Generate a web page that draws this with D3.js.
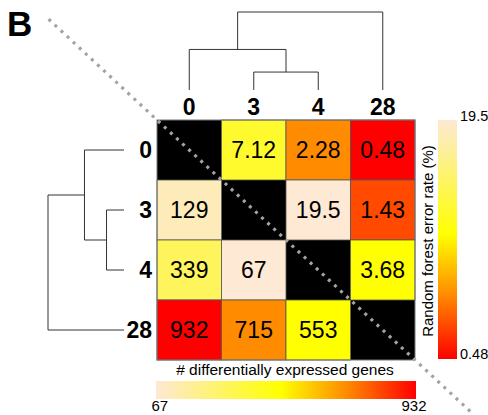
<!DOCTYPE html>
<html>
<head>
<meta charset="utf-8">
<script src="https://cdn.jsdelivr.net/npm/d3@7"></script>
<style>
  body { margin: 0; background: #fff; }
  text { font-family: "Liberation Sans", Arial, sans-serif; }
</style>
</head>
<body>
<div id="vis"></div>
<script>
// groups (rows and columns, in dendrogram order)
var groups = ["0", "3", "4", "28"];

// upper triangle: random forest error rate (%), [row, col, value]
var errorRates = [
  ["0", "3", 7.12], ["0", "4", 2.28], ["0", "28", 0.48],
  ["3", "4", 19.5], ["3", "28", 1.43],
  ["4", "28", 3.68]
];

// lower triangle: number of differentially expressed genes
var deGenes = [
  ["3", "0", 129],
  ["4", "0", 339], ["4", "3", 67],
  ["28", "0", 932], ["28", "3", 715], ["28", "4", 553]
];

// dendrogram: 3 and 4 join first, then 0, then 28 (relative heights)
var tree = {h: 1, children: [
  {h: 0.52, children: [
    {name: "0", h: 0},
    {h: 0.23, children: [{name: "3", h: 0}, {name: "4", h: 0}]}
  ]},
  {name: "28", h: 0}
]};

var errorRange = [0.48, 19.5];
var geneRange = [67, 932];

// colour bar palette (low-gene / high-error end first)
var paletteColors = ["#fde9d4", "#ffff00", "#ff8c00", "#ff0000"];
var paletteStops = [0, 0.48, 0.73, 1];

var width = 488, height = 415;

var svg = d3.select("#vis")
  .append("svg")
  .attr("width", width)
  .attr("height", height);

// heatmap scales
var x = d3.scaleBand().domain(groups).range([157, 415]);
var y = d3.scaleBand().domain(groups).range([120, 360]);

// colour scales: beige -> yellow -> orange -> red
var errColor = d3.scaleLinear()
  .domain([0.48, 2.28, 3.68, 19.5])
  .range(["#ff0000", "#ff8c00", "#ffff00", "#fde9d4"]);
var geneColor = d3.scaleLinear()
  .domain([67, 553, 715, 932])
  .range(["#fde9d4", "#ffff00", "#ff8c00", "#ff0000"]);

// panel letter
svg.append("text")
  .attr("x", 7)
  .attr("y", 36)
  .attr("font-size", 35)
  .attr("font-weight", "bold")
  .text("B");

// diagonal cells
svg.selectAll(".diag")
  .data(groups)
  .enter().append("rect")
  .attr("x", function(d) { return x(d); })
  .attr("y", function(d) { return y(d); })
  .attr("width", x.bandwidth())
  .attr("height", y.bandwidth())
  .attr("fill", "#000");

function drawCells(data, color) {
  var g = svg.append("g");
  g.selectAll("rect")
    .data(data)
    .enter().append("rect")
    .attr("x", function(d) { return x(d[1]); })
    .attr("y", function(d) { return y(d[0]); })
    .attr("width", x.bandwidth())
    .attr("height", y.bandwidth())
    .attr("fill", function(d) { return color(d[2]); })
    .attr("stroke", "#555")
    .attr("stroke-width", 0.8);
  g.selectAll("text")
    .data(data)
    .enter().append("text")
    .attr("x", function(d) { return x(d[1]) + x.bandwidth() / 2; })
    .attr("y", function(d) { return y(d[0]) + y.bandwidth() / 2 + 8; })
    .attr("text-anchor", "middle")
    .attr("font-size", 23)
    .text(function(d) { return d[2]; });
}
drawCells(errorRates, errColor);
drawCells(deGenes, geneColor);

// outer border
svg.append("rect")
  .attr("x", x.range()[0])
  .attr("y", y.range()[0])
  .attr("width", x.range()[1] - x.range()[0])
  .attr("height", y.range()[1] - y.range()[0])
  .attr("fill", "none")
  .attr("stroke", "#777")
  .attr("stroke-width", 1);

// column and row labels
svg.selectAll(".collab")
  .data(groups)
  .enter().append("text")
  .attr("x", function(d) { return x(d) + x.bandwidth() / 2; })
  .attr("y", 115)
  .attr("text-anchor", "middle")
  .attr("font-size", 23)
  .attr("font-weight", "bold")
  .text(function(d) { return d; });

svg.selectAll(".rowlab")
  .data(groups)
  .enter().append("text")
  .attr("x", 152)
  .attr("y", function(d) { return y(d) + y.bandwidth() / 2 + 8; })
  .attr("text-anchor", "end")
  .attr("font-size", 23)
  .attr("font-weight", "bold")
  .text(function(d) { return d; });

// dendrograms
var root = d3.hierarchy(tree);
function leafPos(node, pos) {
  if (!node.children) return pos(node.data.name);
  return d3.mean(node.children, function(c) { return leafPos(c, pos); });
}

function drawDendro(pos, hScale, vertical) {
  var g = svg.append("g")
    .attr("fill", "none")
    .attr("stroke", "#333")
    .attr("stroke-width", 1);
  root.descendants().forEach(function(n) {
    if (!n.children) return;
    var hp = hScale(n.data.h);
    var pts = n.children.map(function(c) { return leafPos(c, pos); });
    var path = d3.path();
    n.children.forEach(function(c, i) {
      var hc = hScale(c.data.h);
      if (vertical) {
        path.moveTo(pts[i], hc); path.lineTo(pts[i], hp);
      } else {
        path.moveTo(hc, pts[i]); path.lineTo(hp, pts[i]);
      }
    });
    if (vertical) { path.moveTo(pts[0], hp); path.lineTo(pts[1], hp); }
    else { path.moveTo(hp, pts[0]); path.lineTo(hp, pts[1]); }
    g.append("path").attr("d", path.toString());
  });
}

drawDendro(function(d) { return x(d) + x.bandwidth() / 2; },
  d3.scaleLinear().domain([0, 1]).range([90, 12]), true);
drawDendro(function(d) { return y(d) + y.bandwidth() / 2; },
  d3.scaleLinear().domain([0, 1]).range([124, 48]), false);

// colour bar gradients
var defs = svg.append("defs");
function gradient(id, horizontal) {
  var grad = defs.append("linearGradient")
    .attr("id", id)
    .attr("x1", "0%").attr("y1", "0%")
    .attr("x2", horizontal ? "100%" : "0%").attr("y2", horizontal ? "0%" : "100%");
  paletteStops.forEach(function(t, i) {
    grad.append("stop")
      .attr("offset", (t * 100) + "%")
      .attr("stop-color", paletteColors[i]);
  });
}
gradient("gradGenes", true);
gradient("gradErr", false);

// vertical colour bar (error rate)
var barY = d3.scaleLinear().domain(errorRange).range([359, 120]);
svg.append("rect")
  .attr("x", 438).attr("y", 120)
  .attr("width", 19).attr("height", 239)
  .attr("fill", "url(#gradErr)");
svg.append("g")
  .attr("transform", "translate(457,0)")
  .call(d3.axisRight(barY).tickValues(errorRange).tickSize(0).tickPadding(3)
    .tickFormat(d3.format("")))
  .call(function(g) { g.select(".domain").remove(); })
  .selectAll("text")
  .attr("font-size", 14.5)
  .attr("fill", "#000")
  .attr("dy", function(d) { return d === errorRange[0] ? "-0.05em" : "0.05em"; });
svg.append("text")
  .attr("transform", "translate(433,241) rotate(-90)")
  .attr("text-anchor", "middle")
  .attr("font-size", 15)
  .text("Random forest error rate (%)");

// horizontal colour bar (DE genes)
var barX = d3.scaleLinear().domain(geneRange).range([156, 416]);
svg.append("rect")
  .attr("x", 156).attr("y", 381)
  .attr("width", 260).attr("height", 18)
  .attr("fill", "url(#gradGenes)");
svg.append("g")
  .attr("transform", "translate(0,399)")
  .call(d3.axisBottom(barX).tickValues(geneRange).tickSize(0).tickPadding(1))
  .call(function(g) { g.select(".domain").remove(); })
  .selectAll("text")
  .attr("font-size", 15)
  .attr("fill", "#000")
  .attr("text-anchor", function(d) { return d === geneRange[0] ? "start" : "end"; })
  .attr("dx", function(d) { return d === geneRange[0] ? "-5" : "10"; });
svg.append("text")
  .attr("x", 285)
  .attr("y", 375)
  .attr("text-anchor", "middle")
  .attr("font-size", 15.5)
  .text("# differentially expressed genes");

// dotted diagonal through the heatmap
var t0 = -0.42, t1 = 1.22;
svg.append("line")
  .attr("x1", x.range()[0] + t0 * (x.range()[1] - x.range()[0]))
  .attr("y1", y.range()[0] + t0 * (y.range()[1] - y.range()[0]))
  .attr("x2", x.range()[0] + t1 * (x.range()[1] - x.range()[0]))
  .attr("y2", y.range()[0] + t1 * (y.range()[1] - y.range()[0]))
  .attr("stroke", "#a3a3a3")
  .attr("stroke-width", 3.2)
  .attr("stroke-dasharray", "3,5.3");
</script>
</body>
</html>
